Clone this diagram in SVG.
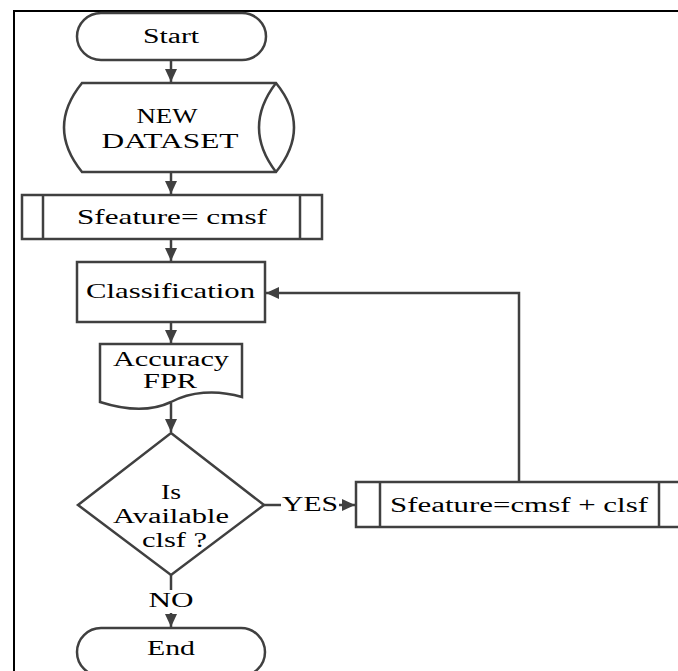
<svg xmlns="http://www.w3.org/2000/svg" width="678" height="671" viewBox="0 0 678 671">
<defs>
<style>
.s{fill:#fff;stroke:#404040;stroke-width:2.5}
.l{fill:none;stroke:#404040;stroke-width:2.5}
.t{font-family:"Liberation Serif","Times New Roman",serif;font-size:20px;fill:#000;text-anchor:middle}
.b{font-size:22px}
</style>
<marker id="ah" markerUnits="userSpaceOnUse" markerWidth="14" markerHeight="14" viewBox="0 0 14 14" refX="13" refY="7" orient="auto">
<path d="M0,1 L13,7 L0,13 Z" fill="#404040"/>
</marker>
</defs>
<rect width="678" height="671" fill="#fff"/>
<path d="M14,680 V11 H690" fill="none" stroke="#000" stroke-width="2"/>

<g id="connectors">
<line class="l" x1="171" y1="60" x2="171" y2="82" marker-end="url(#ah)"/>
<line class="l" x1="171" y1="172" x2="171" y2="194" marker-end="url(#ah)"/>
<line class="l" x1="171" y1="239" x2="171" y2="261" marker-end="url(#ah)"/>
<line class="l" x1="171" y1="322" x2="171" y2="343" marker-end="url(#ah)"/>
<line class="l" x1="171" y1="403" x2="171" y2="432" marker-end="url(#ah)"/>
<line class="l" x1="264" y1="505" x2="281" y2="505"/>
<line class="l" x1="339" y1="505" x2="355" y2="505" marker-end="url(#ah)"/>
<line class="l" x1="171" y1="575" x2="171" y2="590"/>
<line class="l" x1="171" y1="613" x2="171" y2="627" marker-end="url(#ah)"/>
<path class="l" d="M519,482 V293 H266" marker-end="url(#ah)"/>
<text class="t" x="310" y="511" textLength="56" lengthAdjust="spacingAndGlyphs">YES</text>
<text class="t" x="171" y="607" textLength="45" lengthAdjust="spacingAndGlyphs">NO</text>
</g>

<g id="start">
<rect class="s" x="77" y="13" width="189" height="47" rx="24" ry="23.5"/>
<text class="t" x="171" y="43" textLength="56" lengthAdjust="spacingAndGlyphs">Start</text>
</g>

<g id="dataset">
<path class="s" d="M82,83 H276 Q312,127.5 276,172 H82 Q46,127.5 82,83 Z"/>
<path class="l" d="M276,83 Q242,127.5 276,172"/>
<text class="t" x="167" y="123" textLength="61" lengthAdjust="spacingAndGlyphs">NEW</text>
<text class="t" x="170" y="148" textLength="137" lengthAdjust="spacingAndGlyphs">DATASET</text>
</g>

<g id="sfeature1">
<rect class="s" x="22" y="195" width="300" height="44"/>
<line class="l" x1="43" y1="195" x2="43" y2="239"/>
<line class="l" x1="300" y1="195" x2="300" y2="239"/>
<text class="t b" x="172" y="224" textLength="190" lengthAdjust="spacingAndGlyphs">Sfeature= cmsf</text>
</g>

<g id="classification">
<rect class="s" x="77" y="262" width="188" height="60"/>
<text class="t b" x="170.5" y="298" textLength="169" lengthAdjust="spacingAndGlyphs">Classification</text>
</g>

<g id="accuracy">
<path class="s" d="M100,344 H242 V397 C215,389 190,392 171,402 C150,412 125,410 100,402 Z"/>
<text class="t" x="171" y="366" textLength="116" lengthAdjust="spacingAndGlyphs">Accuracy</text>
<text class="t" x="170" y="388" textLength="54" lengthAdjust="spacingAndGlyphs">FPR</text>
</g>

<g id="decision">
<path class="s" d="M171,433 L264,505 L171,575 L78,505 Z"/>
<text class="t" x="171" y="499" textLength="20" lengthAdjust="spacingAndGlyphs">Is</text>
<text class="t" x="171" y="523" textLength="116" lengthAdjust="spacingAndGlyphs">Available</text>
<text class="t" x="174.5" y="547" textLength="65" lengthAdjust="spacingAndGlyphs">clsf ?</text>
</g>

<g id="sfeature2">
<rect class="s" x="356" y="482" width="340" height="45"/>
<line class="l" x1="380" y1="482" x2="380" y2="527"/>
<line class="l" x1="659" y1="482" x2="659" y2="527"/>
<text class="t" x="519" y="512" textLength="258" lengthAdjust="spacingAndGlyphs">Sfeature=cmsf + clsf</text>
</g>

<g id="end">
<rect class="s" x="77" y="628" width="188" height="48" rx="24" ry="24"/>
<text class="t" x="171" y="655" textLength="48" lengthAdjust="spacingAndGlyphs">End</text>
</g>
</svg>
